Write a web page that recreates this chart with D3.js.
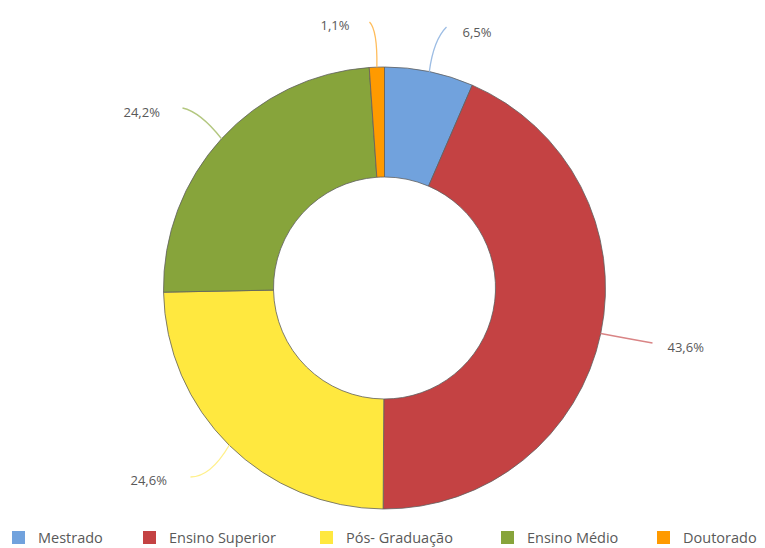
<!DOCTYPE html>
<html>
<head>
<meta charset="utf-8">
<script src="https://cdn.jsdelivr.net/npm/d3@7"></script>
<style>
  html, body { margin: 0; padding: 0; background: #fff; }
  svg { display: block; }
  text { font-family: "Open Sans", "Noto Sans", sans-serif; fill: #595959; }
</style>
</head>
<body>
<svg id="chart" width="765" height="548"></svg>
<script>
// ---- data ----
const categories = ["Mestrado", "Ensino Superior", "Pós- Graduação", "Ensino Médio", "Doutorado"];
const values = [6.5, 43.6, 24.6, 24.2, 1.1];
const valueLabels = ["6,5%", "43,6%", "24,6%", "24,2%", "1,1%"];

// ---- styling / layout ----
const colors = ["#71a2dd", "#c44243", "#ffe83f", "#87a43b", "#ff9a00"];
const lineColors = ["#9dbde4", "#d98485", "#fff08a", "#b3c77f", "#ffbd5c"];
// label anchor (end of leader line) and label text positions, relative to chart centre
const leaderEnd = [[62, -261], [268, 55], [-194, 189], [-202, -180], [-15, -266]];
const leaderCtrl = [[49, -248], [240, 50], [-174, 189], [-184, -176], [-7, -258]];
const labelPos = [[78, -251], [283, 64], [-254, 197], [-261, -171], [-64, -258]];
const legendX = [12, 143, 320, 501, 657];

const W = 765, H = 548;
const cx = 384.5, cy = 288;
const rOuter = 221, rInner = 111;

const svg = d3.select("#chart");
const g = svg.append("g").attr("transform", `translate(${cx},${cy})`);

const pie = d3.pie().sort(null).value(d => d.value);
const arcs = pie(categories.map((c, i) => ({ name: c, value: values[i], i })));
const arc = d3.arc().innerRadius(rInner).outerRadius(rOuter);

g.selectAll("path.slice")
  .data(arcs)
  .join("path")
  .attr("class", "slice")
  .attr("d", arc)
  .attr("fill", (d, i) => colors[i])
  .attr("stroke", "#5f5f5f")
  .attr("stroke-width", 0.8)
  .attr("stroke-linejoin", "round");

// leader lines
arcs.forEach((d, i) => {
  const a = (d.startAngle + d.endAngle) / 2;
  const sx = rOuter * Math.sin(a), sy = -rOuter * Math.cos(a);
  const [ex, ey] = leaderEnd[i];
  const [qx, qy] = leaderCtrl[i];
  g.append("path")
    .attr("d", `M${sx},${sy} Q${qx},${qy} ${ex},${ey}`)
    .attr("fill", "none")
    .attr("stroke", lineColors[i])
    .attr("stroke-width", 1.3);
  g.append("text")
    .attr("x", labelPos[i][0])
    .attr("y", labelPos[i][1])
    .attr("font-size", 13)
    .text(valueLabels[i]);
});

// legend
const lg = svg.append("g");
categories.forEach((c, i) => {
  lg.append("rect")
    .attr("x", legendX[i]).attr("y", 531)
    .attr("width", 13).attr("height", 13)
    .attr("fill", colors[i]);
  lg.append("text")
    .attr("x", legendX[i] + 26).attr("y", 543)
    .attr("font-size", 14.5)
    .text(c);
});
</script>
</body>
</html>
